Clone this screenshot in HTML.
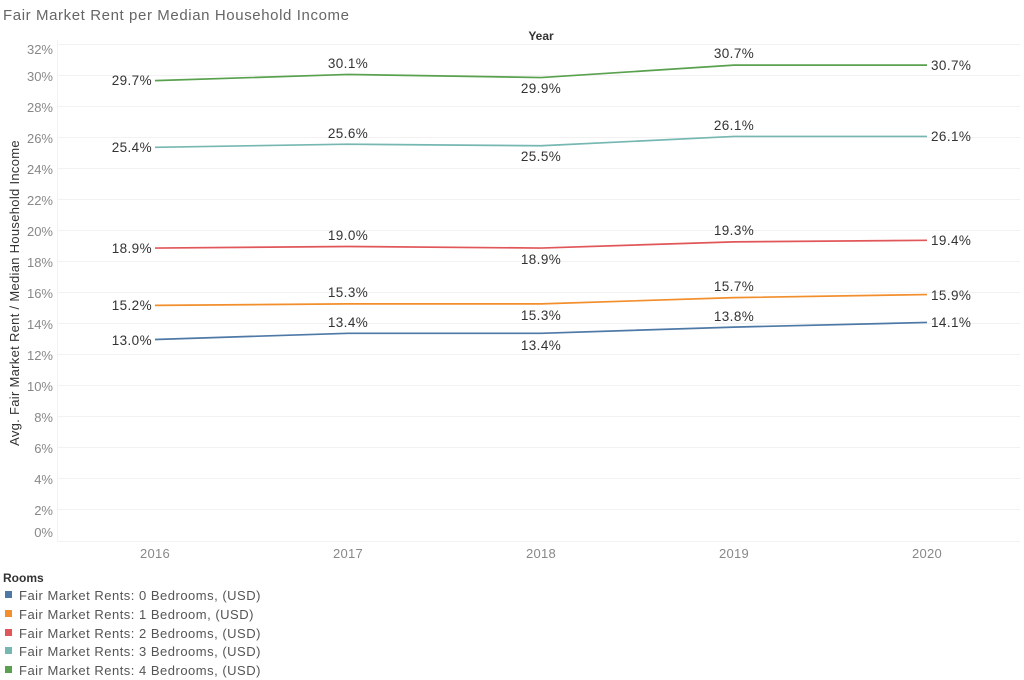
<!DOCTYPE html>
<html><head><style>
html,body{margin:0;padding:0;background:#fff;}
svg{display:block;font-family:"Liberation Sans","DejaVu Sans",sans-serif;}
</style></head><body>
<svg width="1024" height="680" viewBox="0 0 1024 680">
<text x="3" y="20" font-size="15" fill="#666" letter-spacing="0.6">Fair Market Rent per Median Household Income</text>
<text x="541" y="40" font-size="12" font-weight="bold" fill="#333" text-anchor="middle">Year</text>
<text transform="translate(19,293) rotate(-90)" font-size="13" fill="#333" text-anchor="middle" letter-spacing="0.3">Avg. Fair Market Rent / Median Household Income</text>
<g stroke="#f2f2f2" stroke-width="1">
<line x1="57" x2="1020" y1="44.5" y2="44.5"/><line x1="57" x2="1020" y1="75.5" y2="75.5"/><line x1="57" x2="1020" y1="106.5" y2="106.5"/><line x1="57" x2="1020" y1="137.5" y2="137.5"/><line x1="57" x2="1020" y1="168.5" y2="168.5"/><line x1="57" x2="1020" y1="199.5" y2="199.5"/><line x1="57" x2="1020" y1="230.5" y2="230.5"/><line x1="57" x2="1020" y1="261.5" y2="261.5"/><line x1="57" x2="1020" y1="292.5" y2="292.5"/><line x1="57" x2="1020" y1="323.5" y2="323.5"/><line x1="57" x2="1020" y1="354.5" y2="354.5"/><line x1="57" x2="1020" y1="385.5" y2="385.5"/><line x1="57" x2="1020" y1="416.5" y2="416.5"/><line x1="57" x2="1020" y1="447.5" y2="447.5"/><line x1="57" x2="1020" y1="478.5" y2="478.5"/><line x1="57" x2="1020" y1="509.5" y2="509.5"/><line x1="57" x2="1020" y1="541.5" y2="541.5"/>
<line x1="57.5" x2="57.5" y1="40" y2="542"/>
</g>
<g font-size="13" fill="#888" text-anchor="end">
<text x="53" y="54">32%</text><text x="53" y="81">30%</text><text x="53" y="112">28%</text><text x="53" y="143">26%</text><text x="53" y="174">24%</text><text x="53" y="205">22%</text><text x="53" y="236">20%</text><text x="53" y="267">18%</text><text x="53" y="298">16%</text><text x="53" y="329">14%</text><text x="53" y="360">12%</text><text x="53" y="391">10%</text><text x="53" y="422">8%</text><text x="53" y="453">6%</text><text x="53" y="484">4%</text><text x="53" y="515">2%</text><text x="53" y="537">0%</text>
</g>
<g font-size="13" fill="#888" text-anchor="middle" letter-spacing="0.3">
<text x="155" y="558">2016</text><text x="348" y="558">2017</text><text x="541" y="558">2018</text><text x="734" y="558">2019</text><text x="927" y="558">2020</text>
</g>
<g fill="none" stroke-width="1.7">
<polyline stroke="#59a14f" points="155,80.65 348,74.45 541,77.55 734,65.15 927,65.15"/>
<polyline stroke="#76b7b2" points="155,147.3 348,144.2 541,145.75 734,136.45 927,136.45"/>
<polyline stroke="#e15759" points="155,248.05 348,246.5 541,248.05 734,241.85 927,240.3"/>
<polyline stroke="#f28e2b" points="155,305.4 348,303.85 541,303.85 734,297.65 927,294.55"/>
<polyline stroke="#4e79a7" points="155,339.5 348,333.3 541,333.3 734,327.1 927,322.45"/>
</g>
<g font-size="13.5" fill="#333" letter-spacing="0.4">
<text x="152" y="85" text-anchor="end">29.7%</text><text x="348" y="68" text-anchor="middle">30.1%</text><text x="541" y="93" text-anchor="middle">29.9%</text><text x="734" y="58" text-anchor="middle">30.7%</text><text x="931" y="70">30.7%</text>
<text x="152" y="152" text-anchor="end">25.4%</text><text x="348" y="138" text-anchor="middle">25.6%</text><text x="541" y="161" text-anchor="middle">25.5%</text><text x="734" y="130" text-anchor="middle">26.1%</text><text x="931" y="141">26.1%</text>
<text x="152" y="253" text-anchor="end">18.9%</text><text x="348" y="240" text-anchor="middle">19.0%</text><text x="541" y="264" text-anchor="middle">18.9%</text><text x="734" y="235" text-anchor="middle">19.3%</text><text x="931" y="245">19.4%</text>
<text x="152" y="310" text-anchor="end">15.2%</text><text x="348" y="297" text-anchor="middle">15.3%</text><text x="541" y="320" text-anchor="middle">15.3%</text><text x="734" y="291" text-anchor="middle">15.7%</text><text x="931" y="300">15.9%</text>
<text x="152" y="345" text-anchor="end">13.0%</text><text x="348" y="327" text-anchor="middle">13.4%</text><text x="541" y="350" text-anchor="middle">13.4%</text><text x="734" y="321" text-anchor="middle">13.8%</text><text x="931" y="327">14.1%</text>
</g>
<text x="3" y="582" font-size="12" font-weight="bold" fill="#333">Rooms</text>
<g font-size="13" fill="#555" letter-spacing="0.5">
<rect x="5" y="591" width="7" height="7" fill="#4e79a7"/><text x="19" y="600">Fair Market Rents: 0 Bedrooms, (USD)</text>
<rect x="5" y="610" width="7" height="7" fill="#f28e2b"/><text x="19" y="619">Fair Market Rents: 1 Bedroom, (USD)</text>
<rect x="5" y="629" width="7" height="7" fill="#e15759"/><text x="19" y="638">Fair Market Rents: 2 Bedrooms, (USD)</text>
<rect x="5" y="647" width="7" height="7" fill="#76b7b2"/><text x="19" y="656">Fair Market Rents: 3 Bedrooms, (USD)</text>
<rect x="5" y="666" width="7" height="7" fill="#59a14f"/><text x="19" y="675">Fair Market Rents: 4 Bedrooms, (USD)</text>
</g>
</svg>
</body></html>
